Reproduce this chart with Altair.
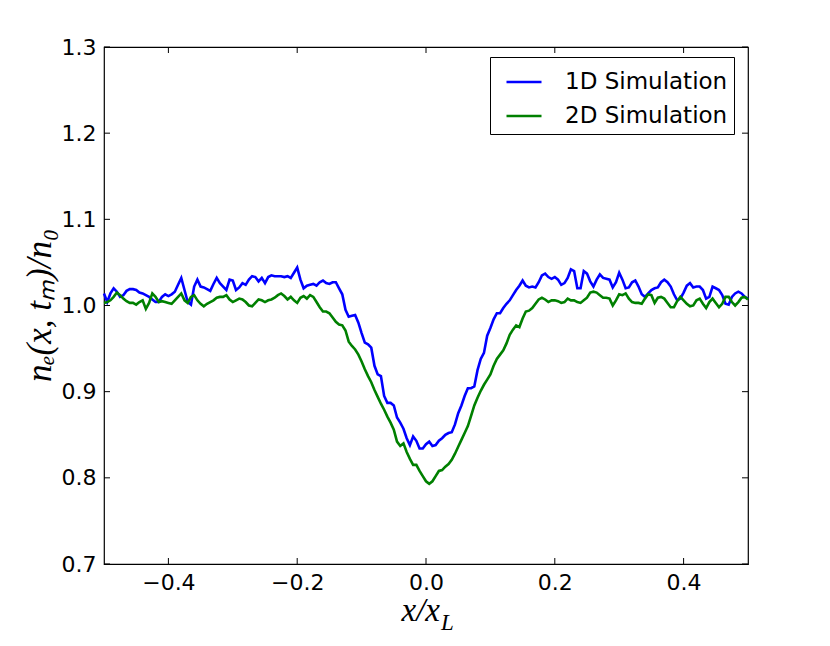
import altair as alt
import numpy as np
import pandas as pd

# x grid: 201 samples from -0.5 to 0.5
x_vals = np.round(np.linspace(-0.5, 0.5, 201), 4)

sim_1d = [
    1.014, 1.004, 1.014, 1.020, 1.016, 1.010, 1.012, 1.017, 1.019, 1.019,
    1.018, 1.015, 1.014, 1.012, 1.010, 1.007, 1.004, 1.004, 1.010, 1.013,
    1.011, 1.013, 1.016, 1.024, 1.032, 1.018, 1.004, 1.001, 1.022, 1.030,
    1.022, 1.021, 1.019, 1.017, 1.025, 1.032, 1.026, 1.022, 1.018, 1.030,
    1.029, 1.018, 1.021, 1.026, 1.024, 1.030, 1.034, 1.033, 1.028, 1.032,
    1.026, 1.033, 1.035, 1.034, 1.034, 1.034, 1.033, 1.034, 1.032, 1.038,
    1.044, 1.030, 1.020, 1.023, 1.024, 1.025, 1.023, 1.027, 1.029, 1.026,
    1.025, 1.027, 1.027, 1.020, 1.013, 0.995, 0.987, 0.988, 0.989, 0.980,
    0.968, 0.957, 0.955, 0.951, 0.930, 0.920, 0.918, 0.895, 0.887, 0.887,
    0.884, 0.870, 0.864, 0.857, 0.846, 0.838, 0.848, 0.843, 0.834, 0.834,
    0.839, 0.842, 0.837, 0.838, 0.843, 0.846, 0.850, 0.852, 0.853, 0.862,
    0.875, 0.884, 0.895, 0.904, 0.904, 0.906, 0.925, 0.938, 0.945, 0.965,
    0.974, 0.984, 0.991, 0.991, 0.997, 1.002, 1.006, 1.012, 1.018, 1.023,
    1.029, 1.023, 1.021, 1.022, 1.021, 1.027, 1.035, 1.037, 1.033, 1.031,
    1.033, 1.030, 1.024, 1.026, 1.032, 1.042, 1.040, 1.020, 1.020, 1.040,
    1.037, 1.028, 1.022, 1.030, 1.036, 1.032, 1.031, 1.030, 1.021, 1.027,
    1.038, 1.030, 1.020, 1.021, 1.027, 1.029, 1.022, 1.013, 1.010, 1.014,
    1.018, 1.020, 1.021, 1.027, 1.030, 1.027, 1.022, 1.013, 1.006, 1.008,
    1.015, 1.023, 1.026, 1.021, 1.022, 1.022, 1.018, 1.008, 1.010, 1.022,
    1.020, 1.018, 1.012, 1.002, 1.001, 1.010, 1.014, 1.016, 1.014, 1.010,
    1.008,
]

sim_2d = [
    1.003, 1.004, 1.006, 1.010, 1.015, 1.012, 1.008, 1.005, 1.003, 1.003,
    1.001, 1.004, 1.006, 0.996, 1.003, 1.014, 1.010, 1.004, 1.005, 1.004,
    1.003, 1.002, 1.006, 1.010, 1.014, 1.006, 1.003, 1.010, 1.012, 1.006,
    1.002, 0.999, 1.002, 1.004, 1.006, 1.009, 1.010, 1.010, 1.012, 1.007,
    1.004, 1.006, 1.008, 1.007, 1.004, 1.000, 0.999, 1.003, 1.007, 1.006,
    1.004, 1.006, 1.007, 1.009, 1.012, 1.014, 1.011, 1.007, 1.010, 1.006,
    1.003, 1.009, 1.011, 1.008, 1.012, 1.010, 1.004, 0.998, 0.993, 0.993,
    0.991, 0.986, 0.981, 0.978, 0.977, 0.971, 0.958, 0.953, 0.949, 0.943,
    0.935, 0.926, 0.918, 0.911, 0.902, 0.894, 0.886, 0.879, 0.871, 0.864,
    0.856, 0.842, 0.837, 0.840, 0.830, 0.822, 0.815, 0.815, 0.808, 0.802,
    0.796, 0.793, 0.796, 0.802, 0.808, 0.809, 0.813, 0.816, 0.821, 0.828,
    0.836, 0.844, 0.852, 0.860, 0.872, 0.884, 0.893, 0.901, 0.908, 0.914,
    0.920, 0.930, 0.938, 0.943, 0.948, 0.956, 0.966, 0.972, 0.977, 0.975,
    0.985, 0.993, 0.994, 0.997, 1.002, 1.007, 1.009, 1.007, 1.004, 1.006,
    1.006, 1.005, 1.003, 1.004, 1.008, 1.006, 1.006, 1.004, 1.003, 1.006,
    1.009, 1.015, 1.016, 1.015, 1.012, 1.009, 1.009, 1.008, 1.000, 1.006,
    1.013, 1.012, 1.014, 1.008, 1.004, 1.003, 1.003, 1.002, 1.008, 1.013,
    1.012, 1.003, 1.009, 1.010, 1.008, 1.003, 0.998, 0.998, 1.005, 1.010,
    1.006, 1.002, 0.999, 1.000, 1.006, 1.008, 1.002, 0.997, 1.004, 1.008,
    1.003, 0.998, 1.002, 1.010, 1.010, 1.004, 1.000, 1.004, 1.009, 1.010,
    1.007,
]

series_names = ["1D Simulation", "2D Simulation"]
series_colors = ["#0000ff", "#008000"]
x_ticks = [-0.4, -0.2, 0.0, 0.2, 0.4]
y_ticks = [0.7, 0.8, 0.9, 1.0, 1.1, 1.2, 1.3]

W, H = 644, 517

df = pd.DataFrame({
    "x": np.concatenate([x_vals, x_vals]),
    "y": sim_1d + sim_2d,
    "series": [series_names[0]] * len(sim_1d) + [series_names[1]] * len(sim_2d),
})

xscale = alt.Scale(domain=[-0.5, 0.5], nice=False, zero=False)
yscale = alt.Scale(domain=[0.7, 1.3], nice=False, zero=False)

x_axis = alt.Axis(values=x_ticks, format=".1f", ticks=False, domain=False, grid=False,
                  labelFont="DejaVu Sans", labelFontSize=22, labelColor="black",
                  labelPadding=8, title=None)
y_axis = alt.Axis(values=y_ticks, format=".1f", ticks=False, domain=False, grid=False,
                  labelFont="DejaVu Sans", labelFontSize=22, labelColor="black",
                  labelPadding=8, title=None)

lines = alt.Chart(df).mark_line(strokeWidth=2.6).encode(
    x=alt.X("x:Q", scale=xscale, axis=x_axis),
    y=alt.Y("y:Q", scale=yscale, axis=y_axis),
    color=alt.Color("series:N",
                    scale=alt.Scale(domain=series_names, range=series_colors),
                    legend=alt.Legend(title=None, orient="none", legendX=386, legendY=10,
                                      symbolType="stroke", symbolSize=1225,
                                      symbolStrokeWidth=2.6, symbolOffset=9,
                                      labelFont="DejaVu Sans", labelFontSize=23,
                                      labelColor="black", labelOffset=22, labelLimit=400,
                                      padding=6, rowPadding=3,
                                      strokeColor="black", fillColor="white",
                                      cornerRadius=0)),
    order="x:Q",
)

xt_df = pd.DataFrame({"x": x_ticks})
yt_df = pd.DataFrame({"y": y_ticks})

tick_bottom = alt.Chart(xt_df).mark_rule(color="black", strokeWidth=1).encode(
    x=alt.X("x:Q", scale=xscale), y=alt.value(H), y2=alt.value(H - 6))
tick_top = alt.Chart(xt_df).mark_rule(color="black", strokeWidth=1).encode(
    x=alt.X("x:Q", scale=xscale), y=alt.value(0), y2=alt.value(6))
tick_left = alt.Chart(yt_df).mark_rule(color="black", strokeWidth=1).encode(
    y=alt.Y("y:Q", scale=yscale), x=alt.value(0), x2=alt.value(6))
tick_right = alt.Chart(yt_df).mark_rule(color="black", strokeWidth=1).encode(
    y=alt.Y("y:Q", scale=yscale), x=alt.value(W), x2=alt.value(W - 6))

one = alt.Data(values=[{"a": 1}])
ytitle = alt.Chart(one).mark_text(angle=270, font="Liberation Serif", fontStyle="italic",
                                  fontSize=35, align="center", baseline="middle",
                                  color="black").encode(
    x=alt.value(-64), y=alt.value(H / 2), text=alt.value("nₑ(x, tₘ)/n₀"))
xtitle_main = alt.Chart(one).mark_text(font="Liberation Serif", fontStyle="italic",
                                       fontSize=33, align="right", baseline="alphabetic",
                                       color="black").encode(
    x=alt.value(336), y=alt.value(574), text=alt.value("x/x"))
xtitle_sub = alt.Chart(one).mark_text(font="Liberation Serif", fontStyle="italic",
                                      fontSize=23, align="left", baseline="alphabetic",
                                      color="black").encode(
    x=alt.value(337), y=alt.value(583), text=alt.value("L"))

chart = alt.layer(lines, tick_bottom, tick_top, tick_left, tick_right,
                  ytitle, xtitle_main, xtitle_sub).properties(
    width=W, height=H,
    background="white",
    padding={"left": 96, "top": 39, "right": 74, "bottom": 74},
    autosize=alt.AutoSizeParams(type="none"),
).configure_view(stroke="black", strokeWidth=1.2)

chart.save("out.html", embed_options={"renderer": "svg", "actions": False})
